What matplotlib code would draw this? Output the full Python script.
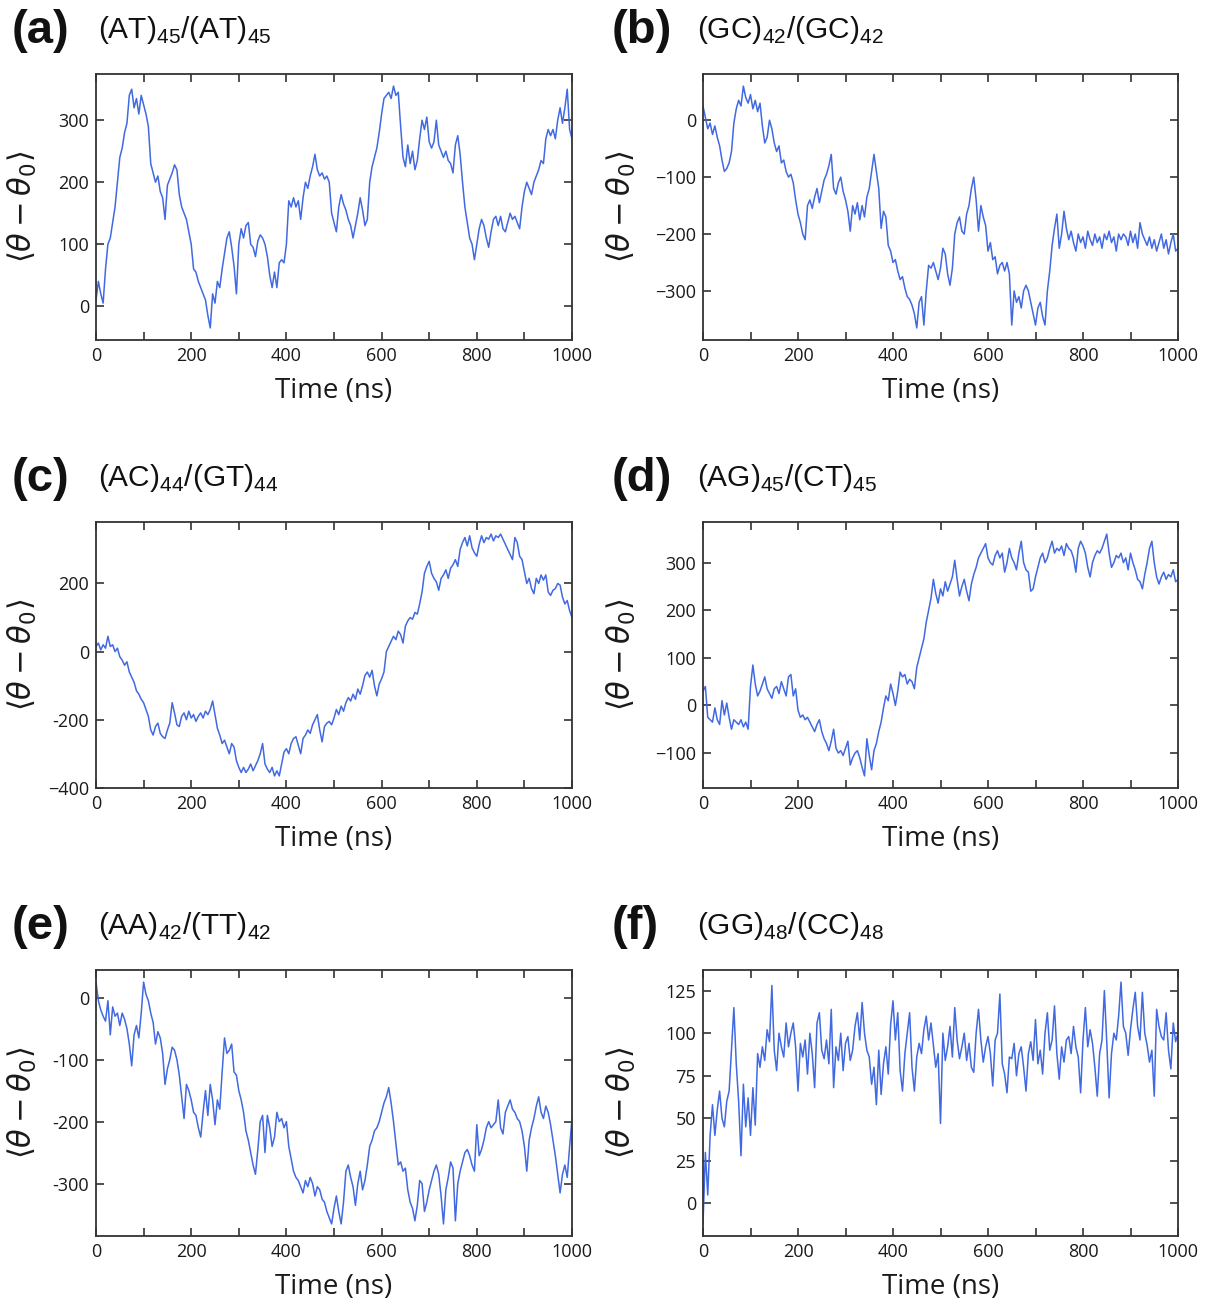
import numpy as np
import matplotlib
matplotlib.use('Agg')
import matplotlib.pyplot as plt

W, H = 1216, 1306
LINE_C = '#4169e1'
SPINE_C = '#333333'
TEXT_C = '#1a1a1a'

# time axis, one value every 5 ns
time_ns = np.arange(0, 1001, 5)

# values, 5 ns apart
at_at = [
    10, 40, 20, 5, 60, 100, 110, 135, 160, 200, 240, 255, 280, 295, 340, 350, 320, 335, 310, 340,
    325, 310, 290, 230, 215, 200, 210, 185, 175, 140, 195, 205, 215, 228, 220, 180, 160, 150, 140, 120,
    100, 60, 55, 40, 30, 20, 10, -15, -35, 20, 5, 40, 30, 60, 85, 110, 120, 95, 65, 20,
    100, 125, 110, 130, 135, 100, 95, 80, 105, 115, 110, 100, 80, 50, 30, 55, 30, 70, 75, 70,
    100, 170, 160, 175, 160, 170, 140, 175, 200, 190, 210, 225, 245, 220, 210, 215, 205, 210, 200, 150,
    135, 120, 160, 180, 165, 155, 140, 130, 110, 130, 150, 175, 155, 130, 140, 200, 225, 240, 255, 280,
    310, 335, 340, 345, 335, 355, 340, 345, 290, 240, 225, 260, 230, 250, 220, 235, 270, 300, 285, 305,
    265, 255, 265, 300, 260, 250, 240, 250, 235, 230, 215, 260, 275, 245, 200, 160, 135, 110, 100, 75,
    100, 125, 140, 130, 110, 95, 120, 140, 145, 130, 145, 125, 120, 135, 150, 140, 145, 135, 125, 160,
    185, 200, 190, 180, 200, 210, 220, 235, 230, 270, 285, 275, 285, 270, 300, 320, 295, 320, 350, 285,
    270]

gc_gc = [
    25, 5, -15, -5, -25, -10, -30, -45, -70, -90, -85, -75, -55, -5, 20, 35, 25, 60, 40, 30,
    45, 20, 35, 15, 30, -10, -40, -30, 0, -15, -40, -55, -45, -75, -70, -90, -100, -95, -110, -140,
    -165, -180, -200, -210, -150, -140, -155, -135, -120, -145, -125, -105, -95, -80, -60, -120, -130, -110, -100, -125,
    -140, -160, -195, -150, -165, -145, -175, -150, -170, -135, -120, -90, -60, -90, -120, -190, -160, -170, -220, -230,
    -250, -245, -265, -280, -275, -295, -310, -315, -325, -340, -365, -320, -310, -360, -300, -255, -260, -250, -265, -280,
    -260, -225, -235, -270, -290, -260, -200, -180, -170, -195, -200, -165, -150, -120, -100, -140, -195, -150, -170, -185,
    -230, -215, -245, -240, -270, -255, -250, -265, -250, -270, -360, -300, -320, -310, -330, -300, -290, -300, -320, -340,
    -360, -330, -320, -345, -360, -300, -265, -220, -190, -165, -225, -200, -160, -190, -210, -195, -215, -230, -200, -215,
    -205, -225, -195, -210, -220, -200, -215, -205, -225, -200, -210, -195, -215, -205, -230, -200, -210, -200, -205, -220,
    -195, -215, -200, -225, -180, -200, -210, -220, -205, -225, -210, -230, -215, -200, -225, -210, -235, -215, -200, -230,
    -225]

ac_gt = [
    15, 25, 5, 20, 10, 45, 15, 20, 0, 10, -15, -25, -40, -30, -60, -75, -90, -115, -125, -140,
    -150, -170, -190, -230, -245, -220, -210, -240, -250, -255, -230, -210, -150, -180, -215, -220, -190, -180, -200, -175,
    -195, -185, -205, -190, -180, -195, -175, -185, -170, -145, -185, -225, -245, -270, -260, -280, -300, -270, -280, -320,
    -340, -355, -340, -355, -345, -330, -350, -335, -320, -300, -270, -330, -345, -355, -340, -365, -350, -365, -330, -295,
    -285, -300, -270, -255, -250, -275, -300, -255, -245, -230, -240, -215, -200, -185, -230, -265, -220, -210, -205, -215,
    -195, -170, -185, -160, -175, -150, -135, -145, -125, -140, -110, -125, -100, -70, -60, -75, -55, -100, -130, -95,
    -80, -60, 0, 15, 30, 45, 35, 60, 50, 25, 75, 90, 100, 95, 115, 110, 140, 175, 230, 250,
    265, 230, 215, 205, 180, 215, 225, 240, 215, 245, 255, 270, 250, 300, 320, 335, 310, 340, 305, 290,
    280, 315, 340, 320, 335, 330, 345, 325, 340, 335, 345, 330, 315, 300, 285, 270, 335, 320, 280, 270,
    235, 200, 215, 185, 170, 215, 200, 225, 210, 225, 175, 165, 180, 185, 200, 195, 160, 140, 150, 120,
    100]

ag_ct = [
    30, 40, -25, -30, -35, -5, -30, -40, 10, -20, 5, -25, -50, -30, -35, -40, -30, -45, -35, -50,
    40, 85, 45, 20, 30, 45, 60, 35, 25, 15, 35, 40, 25, 50, 35, 20, 60, 65, 20, 35,
    -10, -25, -20, -30, -25, -35, -45, -55, -40, -30, -55, -70, -80, -95, -75, -50, -90, -100, -95, -105,
    -90, -75, -125, -110, -100, -95, -110, -130, -148, -70, -105, -135, -95, -80, -55, -35, -5, 20, 10, 45,
    25, 0, 30, 70, 60, 65, 45, 55, 50, 35, 80, 100, 120, 140, 175, 200, 225, 265, 235, 215,
    245, 230, 260, 240, 255, 270, 305, 265, 230, 250, 265, 240, 220, 255, 275, 290, 310, 320, 330, 340,
    310, 300, 295, 315, 325, 310, 320, 280, 300, 330, 310, 300, 285, 320, 345, 300, 285, 280, 240, 245,
    270, 290, 310, 320, 300, 310, 330, 345, 320, 330, 325, 335, 315, 340, 330, 325, 310, 280, 330, 345,
    335, 320, 290, 270, 300, 315, 325, 320, 330, 345, 360, 320, 290, 300, 315, 310, 320, 300, 310, 285,
    320, 300, 285, 265, 260, 245, 275, 300, 330, 345, 300, 270, 255, 270, 280, 265, 275, 270, 285, 260,
    265]

aa_tt = [
    25, -5, -20, -30, -38, -5, -60, -15, -30, -25, -45, -25, -35, -50, -75, -110, -60, -45, -65, -25,
    25, 5, -5, -25, -40, -75, -55, -65, -90, -140, -115, -100, -80, -85, -100, -125, -160, -195, -140, -150,
    -165, -185, -190, -210, -225, -185, -150, -190, -140, -165, -205, -165, -180, -120, -65, -90, -85, -75, -120, -125,
    -150, -165, -185, -215, -230, -250, -270, -285, -245, -200, -190, -250, -190, -210, -240, -225, -185, -200, -195, -210,
    -200, -240, -260, -280, -290, -295, -305, -315, -295, -305, -290, -300, -320, -305, -310, -325, -330, -345, -355, -365,
    -340, -320, -345, -365, -330, -280, -270, -290, -305, -335, -300, -280, -310, -295, -270, -240, -230, -215, -210, -200,
    -185, -170, -160, -145, -170, -200, -235, -270, -265, -280, -275, -310, -330, -340, -360, -335, -295, -300, -345, -330,
    -310, -295, -280, -270, -285, -320, -365, -310, -290, -265, -275, -360, -300, -280, -265, -250, -245, -255, -270, -280,
    -205, -255, -245, -230, -210, -200, -210, -205, -200, -165, -210, -220, -185, -175, -165, -180, -185, -195, -200, -215,
    -240, -280, -230, -210, -195, -175, -160, -185, -195, -175, -185, -205, -230, -255, -285, -315, -285, -270, -290, -240,
    -195]

gg_cc = [
    -12, 30, 5, 40, 58, 40, 55, 66, 50, 45, 60, 66, 90, 115, 82, 60, 28, 70, 45, 62,
    40, 68, 46, 88, 80, 92, 84, 102, 95, 128, 90, 78, 100, 92, 86, 106, 92, 100, 106, 92,
    66, 94, 86, 96, 76, 100, 88, 68, 106, 112, 90, 85, 96, 82, 114, 68, 92, 84, 100, 78,
    94, 98, 84, 90, 104, 112, 96, 118, 100, 90, 86, 70, 80, 58, 90, 64, 82, 92, 76, 105,
    119, 96, 112, 78, 66, 88, 100, 112, 80, 66, 86, 94, 88, 102, 110, 96, 106, 93, 80, 88,
    47, 100, 84, 92, 104, 86, 115, 96, 85, 92, 100, 84, 94, 80, 77, 100, 114, 96, 83, 92,
    98, 88, 69, 96, 100, 123, 82, 76, 65, 86, 85, 94, 75, 88, 92, 80, 66, 88, 95, 84,
    108, 82, 90, 76, 100, 112, 90, 96, 116, 88, 73, 92, 83, 96, 98, 88, 104, 92, 86, 65,
    96, 115, 92, 102, 94, 80, 63, 88, 96, 125, 95, 62, 88, 100, 96, 110, 130, 104, 100, 87,
    102, 114, 124, 104, 96, 124, 100, 93, 83, 90, 63, 114, 104, 98, 96, 112, 90, 79, 106, 95,
    100]

letters = ['(a)', '(b)', '(c)', '(d)', '(e)', '(f)']
titles = [
    r'(AT)$_{\mathregular{45}}$/(AT)$_{\mathregular{45}}$',
    r'(GC)$_{\mathregular{42}}$/(GC)$_{\mathregular{42}}$',
    r'(AC)$_{\mathregular{44}}$/(GT)$_{\mathregular{44}}$',
    r'(AG)$_{\mathregular{45}}$/(CT)$_{\mathregular{45}}$',
    r'(AA)$_{\mathregular{42}}$/(TT)$_{\mathregular{42}}$',
    r'(GG)$_{\mathregular{48}}$/(CC)$_{\mathregular{48}}$',
]
series = [at_at, gc_gc, ac_gt, ag_ct, aa_tt, gg_cc]
yticks = [
    [0, 100, 200, 300],
    [-300, -200, -100, 0],
    [-400, -200, 0, 200],
    [-100, 0, 100, 200, 300],
    [-300, -200, -100, 0],
    [0, 25, 50, 75, 100, 125],
]
# (c) and (e) mix hyphens and minus signs in the original
ytick_labels = [
    None,
    None,
    ['\u2212400', '-200', '0', '200'],
    None,
    ['-300', '-200', '-100', '0'],
    None,
]
xticks = list(range(0, 1001, 100))
xtick_labels = [str(v) if v % 200 == 0 else '' for v in xticks]

plt.rcParams.update({
    'font.family': ['Open Sans', 'DejaVu Sans'],
    'mathtext.fontset': 'dejavusans',
    'axes.edgecolor': SPINE_C,
    'axes.linewidth': 1.3,
})

fig = plt.figure(figsize=(W / 100, H / 100), dpi=100)

col_left = [96, 703]
col_w = [476, 475]
row_top = [74, 522, 970]
ax_h = 266
ylab_x = [-0.155, -0.171]   # label centre, axes fraction

for i, (vals, letter, title) in enumerate(zip(series, letters, titles)):
    r, c = divmod(i, 2)
    left, top = col_left[c], row_top[r]
    ax = fig.add_axes([left / W, 1 - (top + ax_h) / H, col_w[c] / W, ax_h / H])
    ax.plot(time_ns, vals, color=LINE_C, lw=1.1)
    ax.set_xlim(0, 1000)
    ax.set_xticks(xticks)
    ax.set_xticklabels(xtick_labels)
    ax.set_yticks(yticks[i])
    if ytick_labels[i] is not None:
        ax.set_yticklabels(ytick_labels[i])
    ax.tick_params(direction='in', length=6, width=1.2, top=True, right=True,
                   labelsize=13, pad=5, colors=SPINE_C, labelcolor=TEXT_C)
    ax.set_xlabel('Time (ns)', fontsize=20, color=TEXT_C, labelpad=9)
    ax.set_ylabel(r'$\langle\theta - \theta_0\rangle$', fontsize=22,
                  color=TEXT_C, va='center')
    ax.yaxis.set_label_coords(ylab_x[c], 0.5)

    lx = 12 if c == 0 else 612
    tx = 98 if c == 0 else 697
    fig.text(lx / W, 1 - (top - 31) / H, letter, fontsize=34, fontweight='bold',
             family='Liberation Sans', va='baseline', ha='left', color='#111111')
    fig.text(tx / W, 1 - (top - 36) / H, title, fontsize=21.5,
             family='Liberation Sans', va='baseline', ha='left', color='#111111')

fig.savefig('out.png', dpi=100, facecolor='white')
